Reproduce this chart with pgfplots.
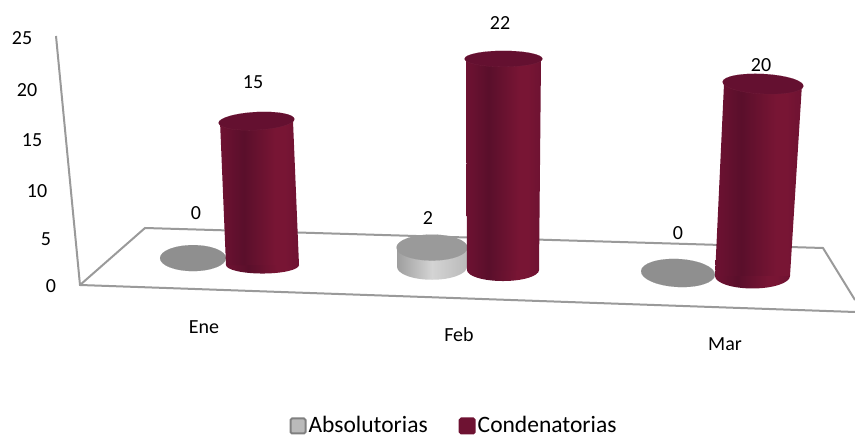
\documentclass[border=0pt]{standalone}
\usepackage{fontspec}
\setmainfont{Carlito}
\usepackage{pgfplots}
\pgfplotsset{compat=1.18}

\definecolor{wallgray}{HTML}{9A9A9A}
\definecolor{flatgray}{HTML}{8F8F8F}
\definecolor{wine}{HTML}{6E1232}
\definecolor{winecap}{HTML}{641030}
\definecolor{winedark}{HTML}{5A0F2B}
\definecolor{winelight}{HTML}{781534}

\pgfdeclarehorizontalshading{wineside}{100bp}{
  color(0bp)=(wine); color(25bp)=(wine);
  color(40bp)=(winedark); color(60bp)=(winelight); color(66bp)=(winelight);
  color(75bp)=(wine); color(100bp)=(wine)}
\pgfdeclarehorizontalshading{grayside}{100bp}{
  color(0bp)=(black!38); color(25bp)=(black!38); color(50bp)=(black!17);
  color(75bp)=(black!27); color(100bp)=(black!27)}

\pgfdeclareplotmark{wineball}{\pgfpathcircle{\pgfpointorigin}{\pgfplotmarksize}\pgfshadepath{wineside}{0}\pgfusepath{discard}}
\pgfdeclareplotmark{grayball}{\pgfpathcircle{\pgfpointorigin}{\pgfplotmarksize}\pgfshadepath{grayside}{0}\pgfusepath{discard}}

% y in chart units (9.6 px each), x in px; \py turns a pixel row into y
\newcommand{\py}[1]{{(285-#1)/9.6}}

% cylinder body: xbot, half width bot, ybase, xtop, half width top, value, shading, mark, bottom ry
\newcommand{\cyl}[9]{%
  \pgfmathsetmacro\yb{#3}%
  \pgfmathsetmacro\yt{#3+#6}%
  \pgfmathsetmacro\xa{#1-#2}%
  \pgfmathsetmacro\xb{#1+#2}%
  \pgfmathsetmacro\xc{#4+#5}%
  \pgfmathsetmacro\xd{#4-#5}%
  \addplot[forget plot,only marks,mark=#8,mark size=1pt,
    mark options={xscale=#2,yscale=#9}] coordinates {(#1,\yb)};
  \addplot[forget plot,draw=none,shading=#7] coordinates {(\xa,\yb) (\xb,\yb) (\xc,\yt) (\xd,\yt)} -- cycle;
}
% cap on a cylinder, or the flat disc of a zero value
\newcommand{\cp}[7]{%
  \pgfmathsetmacro\yt{#2+#3}%
  \addplot[forget plot,only marks,mark=*,mark size=1pt,
    mark options={draw=#7,line width=0.05pt,fill=#6,rotate=#5,xscale=#4,yscale=#1}] coordinates {(\xx,\yt)};
}

\begin{document}
\begin{tikzpicture}
\begin{axis}[
    scale only axis,
    width=855pt,
    height=436pt,
    xmin=0, xmax=855,
    ymin=-15.7292, ymax=29.6875,
    hide axis,
    clip mode=individual,
    legend columns=2,
    legend style={draw=none,fill=none,at={(axis cs:454,{(285-425.5)/9.6})},anchor=center,
      font=\fontsize{23.5}{25}\selectfont,
      /tikz/every even column/.append style={column sep=29pt},
      inner sep=0pt,outer sep=0pt},
]
\addlegendimage{legend image code/.code={
    \draw[draw=black!50,line width=2pt,fill=black!27,rounded corners=1.5pt] (-2.5pt,-8pt) rectangle (12.5pt,7pt);}}
\addlegendentry{Absolutorias}
\addlegendimage{legend image code/.code={
    \draw[draw=wine,line width=2pt,fill=wine,rounded corners=1.5pt] (-2.5pt,-8pt) rectangle (12.5pt,7pt);}}
\addlegendentry{Condenatorias}

% keeps the page as large as the whole axis
\path (rel axis cs:0,0) rectangle (rel axis cs:1,1);

% walls and floor
\addplot[forget plot,wallgray,line width=2pt] coordinates {(56,{(285-36)/9.6}) (80,0) (855,{(285-312)/9.6})};
\addplot[forget plot,wallgray,line width=2pt] coordinates {(80,0) (145,{(285-228)/9.6}) (823,{(285-248)/9.6}) (855,{(285-300)/9.6})};

% Absolutorias
\def\xx{193}\cp{13}{2.8}{0}{33}{0}{flatgray}{flatgray}
\cyl{432}{35}{1.9}{432}{35}{2}{grayside}{grayball}{13}
\def\xx{432}\cp{13}{1.9}{2}{35.5}{0}{flatgray!90!white}{flatgray!90!white}
\def\xx{678}\cp{14}{1.25}{0}{37}{-3}{flatgray}{flatgray}

% Condenatorias
\cyl{262.5}{36.5}{2.08}{256.5}{36.5}{15}{wineside}{wineball}{8.5}
\def\xx{256.5}\cp{9}{2.08}{15}{38}{3}{winecap}{wine!90!white}
\cyl{503}{36}{1.56}{503.5}{37.5}{22}{wineside}{wineball}{11}
\def\xx{503.5}\cp{8}{1.56}{22}{39}{0}{winecap}{wine!90!white}
\cyl{752.5}{37.5}{0.94}{763}{39}{20}{wineside}{wineball}{12.5}
\def\xx{763}\cp{10}{0.94}{20}{40.5}{-3}{winecap}{wine!90!white}

% y tick labels follow the slanted wall
\node[font=\fontsize{20}{21}\selectfont] at (axis cs:22,\py{38}) {25};
\node[font=\fontsize{20}{21}\selectfont] at (axis cs:27,\py{90}) {20};
\node[font=\fontsize{20}{21}\selectfont] at (axis cs:32,\py{140}) {15};
\node[font=\fontsize{20}{21}\selectfont] at (axis cs:37,\py{191}) {10};
\node[font=\fontsize{20}{21}\selectfont] at (axis cs:46,\py{239}) {5};
\node[font=\fontsize{20}{21}\selectfont] at (axis cs:51,\py{286}) {0};

% value labels
\node[font=\fontsize{20}{21}\selectfont] at (axis cs:253,\py{82}) {15};
\node[font=\fontsize{20}{21}\selectfont] at (axis cs:196,\py{213}) {0};
\node[font=\fontsize{20}{21}\selectfont] at (axis cs:428,\py{218}) {2};
\node[font=\fontsize{20}{21}\selectfont] at (axis cs:500,\py{23}) {22};
\node[font=\fontsize{20}{21}\selectfont] at (axis cs:678,\py{233}) {0};
\node[font=\fontsize{20}{21}\selectfont] at (axis cs:761,\py{65}) {20};

% categories
\node[font=\fontsize{20}{21}\selectfont] at (axis cs:204,\py{327}) {Ene};
\node[font=\fontsize{20}{21}\selectfont] at (axis cs:459,\py{335}) {Feb};
\node[font=\fontsize{20}{21}\selectfont] at (axis cs:725,\py{344}) {Mar};
\end{axis}
\end{tikzpicture}
\end{document}
